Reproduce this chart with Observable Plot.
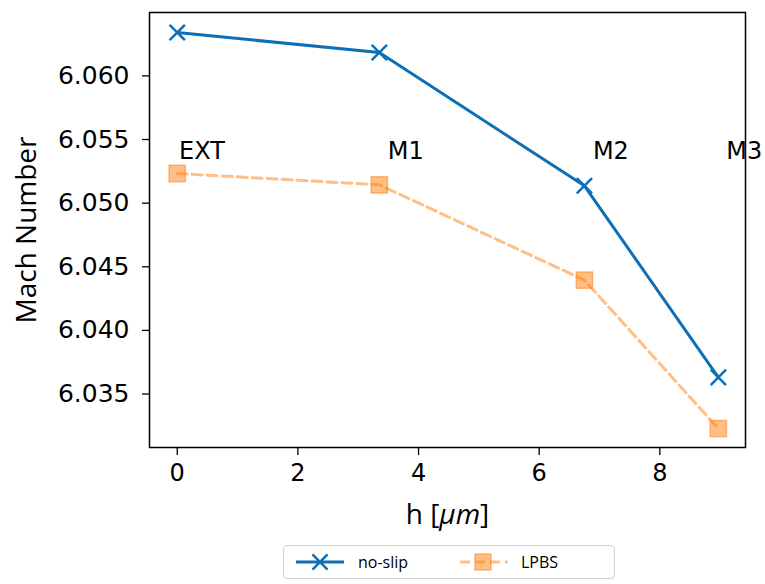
<!DOCTYPE html>
<html>
<head>
<meta charset="utf-8">
<script src="https://cdn.jsdelivr.net/npm/d3@7"></script>
<script src="https://cdn.jsdelivr.net/npm/@observablehq/plot@0.6"></script>
<style>
  body { margin: 0; background: #fff; }
  #wrap { position: relative; width: 765px; height: 584px; }
  #legend { position: absolute; left: 283px; top: 545px; width: 332px; height: 34px;
    box-sizing: border-box; border: 1px solid #d0d0d0; border-radius: 4px;
    font-family: "Open Sans", sans-serif; font-size: 16px; color: #111; }
  #legend svg { position: absolute; top: 0; left: 0; }
</style>
</head>
<body>
<div id="wrap"></div>
<script>
const hValues = [0, 3.35, 6.75, 8.97];
const noSlip = [6.06341, 6.06183, 6.05136, 6.03631];
const lpbs = [6.05233, 6.05144, 6.04395, 6.03229];
const caseLabels = ["EXT", "M1", "M2", "M3"];
const labelX = [0.03, 3.49, 6.89, 9.1];
const labelY = 6.0535;
const xTicks = [0, 2, 4, 6, 8];
const yTicks = [6.035, 6.040, 6.045, 6.050, 6.055, 6.060];
const seriesNames = ["no-slip", "LPBS"];

const blue = "#0f6fb4";
const orange = "#ff7f0e";

const dA = hValues.map((h, i) => ({h, v: noSlip[i]}));
const dB = hValues.map((h, i) => ({h, v: lpbs[i]}));
const labs = caseLabels.map((t, i) => ({t, x: labelX[i], y: labelY}));

const chart = Plot.plot({
  width: 765, height: 540,
  marginLeft: 149, marginRight: 20, marginTop: 12, marginBottom: 93,
  style: {background: "#fff", color: "#000"},
  x: {domain: [-0.46, 9.42]},
  y: {domain: [6.0308, 6.06498]},
  marks: [
    Plot.frame({stroke: "#000", strokeWidth: 1.5}),
    Plot.axisX({ticks: xTicks, tickSize: 8, tickPadding: 8, fontSize: 24, label: null,
      fontFamily: "DejaVu Sans", tickFormat: d3.format("d"), strokeWidth: 1.3}),
    Plot.axisY({ticks: yTicks, tickSize: 7, tickPadding: 13, fontSize: 25, label: null,
      fontFamily: "DejaVu Sans", tickFormat: d3.format(".3f"), strokeWidth: 1.3}),
    Plot.line(dB, {x: "h", y: "v", stroke: orange, strokeOpacity: 0.5, strokeWidth: 3, strokeDasharray: "10,5"}),
    Plot.dot(dB, {x: "h", y: "v", symbol: "square", r: 9.2, fill: orange, fillOpacity: 0.5, stroke: orange, strokeOpacity: 0.5, strokeWidth: 1.5}),
    Plot.line(dA, {x: "h", y: "v", stroke: blue, strokeWidth: 3}),
    Plot.dot(dA, {x: "h", y: "v", symbol: "times", r: 7, stroke: blue, strokeWidth: 2.5}),
    Plot.text(labs, {x: "x", y: "y", text: "t", textAnchor: "start", lineAnchor: "bottom",
      fontSize: 24, fontFamily: "DejaVu Sans", fill: "#000", clip: false}),
    Plot.text(["h [μm]"], {frameAnchor: "bottom", textAnchor: "middle", lineAnchor: "bottom", dy: 76, fontSize: 28, fontFamily: "Open Sans", fill: "#000"}),
    Plot.text(["Mach Number"], {frameAnchor: "left", textAnchor: "middle", lineAnchor: "middle", dx: -122, dy: 0, rotate: -90, fontSize: 28, fontFamily: "Open Sans", fill: "#000"})
  ]
});
document.getElementById("wrap").appendChild(chart);

// italic μm in x label
chart.querySelectorAll("text").forEach(t => {
  if (t.textContent === "h [μm]") {
    t.textContent = "";
    const ns = "http://www.w3.org/2000/svg";
    const parts = [["h [", null], ["μm", "italic"], ["]", null]];
    for (const [s, st] of parts) {
      const ts = document.createElementNS(ns, "tspan");
      ts.textContent = s;
      if (st) ts.setAttribute("font-style", st);
      t.appendChild(ts);
    }
  }
});

// legend
const leg = document.createElement("div");
leg.id = "legend";
const svg = d3.create("svg").attr("width", 330).attr("height", 32);
const g1 = svg.append("g");
g1.append("line").attr("x1", 12).attr("x2", 60).attr("y1", 16).attr("y2", 16).attr("stroke", blue).attr("stroke-width", 3);
g1.append("path").attr("d", d3.symbol(d3.symbolTimes, 150)()).attr("transform", "translate(36,16)").attr("stroke", blue).attr("stroke-width", 2.5).attr("fill", "none");
svg.append("text").attr("x", 74).attr("y", 16).attr("dy", "0.35em").attr("font-family", "Open Sans").attr("font-size", 16).text(seriesNames[0]);
const g2 = svg.append("g");
g2.append("line").attr("x1", 176).attr("x2", 224).attr("y1", 16).attr("y2", 16).attr("stroke", orange).attr("stroke-opacity", 0.5).attr("stroke-width", 3).attr("stroke-dasharray", "10,5");
g2.append("rect").attr("x", 191).attr("y", 8).attr("width", 16).attr("height", 16).attr("fill", orange).attr("fill-opacity", 0.5).attr("stroke", orange).attr("stroke-opacity", 0.5).attr("stroke-width", 1.5);
svg.append("text").attr("x", 237).attr("y", 16).attr("dy", "0.35em").attr("font-family", "Open Sans").attr("font-size", 16).text(seriesNames[1]);
leg.appendChild(svg.node());
document.getElementById("wrap").appendChild(leg);
</script>
</body>
</html>
